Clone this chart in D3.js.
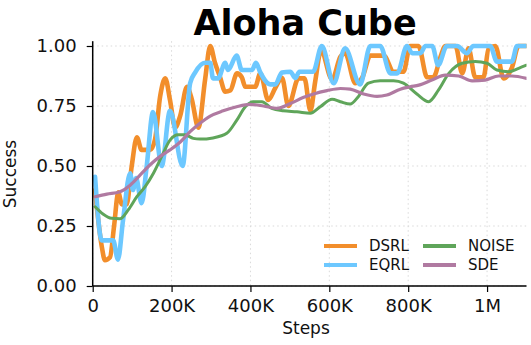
<!DOCTYPE html>
<html>
<head>
<meta charset="utf-8">
<script src="https://cdn.jsdelivr.net/npm/d3@7"></script>
<style>
  html, body { margin: 0; padding: 0; background: #fff; }
  svg { display: block; font-family: "DejaVu Sans", sans-serif; }
</style>
</head>
<body>
<svg id="chart" width="531" height="345"></svg>
<script>
// ---- data (steps in thousands) ----
const seriesNames = ["DSRL", "EQRL", "NOISE", "SDE"];

const dsrlSteps = [6,23,31,44,54,65,74,86,99,112,124,146,158,171,184,196,209,222,239,251,268,285,298,310,323,336,349,366,378,387,412,425,445,463,480,496,522,537,552,564,579,607,628,640,666,684,704,738,763,788,805,826,848,864,882,894,920,937,953,970,991,1004,1021,1042,1063,1080,1100];
const dsrlValues = [0.40,0.164,0.108,0.12,0.247,0.39,0.34,0.34,0.50,0.62,0.567,0.567,0.61,0.79,0.865,0.775,0.66,0.71,0.83,0.78,0.66,0.86,1.0,0.93,0.87,0.81,0.815,0.886,0.87,0.83,0.83,0.886,0.775,0.825,0.867,0.75,0.865,0.865,0.73,0.85,0.98,0.86,0.955,0.97,0.845,0.87,0.96,0.96,0.893,0.893,1.0,1.0,0.87,0.87,0.955,1.0,1.0,0.886,0.99,0.87,0.87,0.99,1.0,0.865,0.91,1.0,1.0];

const eqrlSteps = [6,23,52,64,77,95,102,110,124,137,153,175,196,228,247,260,285,298,305,318,336,343,365,378,404,414,425,450,463,480,501,514,524,559,581,611,640,678,704,729,755,772,797,810,831,844,861,876,898,924,949,965,1008,1025,1063,1076,1100];
const eqrlValues = [0.455,0.19,0.19,0.11,0.275,0.47,0.40,0.45,0.345,0.50,0.725,0.50,0.73,0.50,0.845,0.89,0.93,0.93,0.865,0.865,0.93,0.90,0.96,0.90,0.90,0.93,0.89,0.84,0.84,0.89,0.893,0.867,0.893,0.893,1.0,0.845,0.99,0.84,1.0,1.0,0.886,0.886,1.0,0.97,0.97,1.0,1.0,0.92,1.0,1.0,0.97,1.0,1.0,0.935,0.935,1.0,1.0];

const noiseSteps = [6,26,48,69,90,112,133,154,175,196,217,234,255,272,305,340,365,387,407,429,454,483,518,552,577,607,628,653,674,699,729,763,788,822,852,877,903,937,970,1000,1025,1055,1080,1100];
const noiseValues = [0.33,0.30,0.282,0.28,0.317,0.372,0.414,0.47,0.54,0.608,0.63,0.63,0.615,0.612,0.617,0.636,0.69,0.747,0.768,0.768,0.74,0.73,0.726,0.72,0.747,0.778,0.768,0.758,0.79,0.845,0.855,0.855,0.845,0.80,0.768,0.817,0.886,0.928,0.935,0.928,0.90,0.893,0.907,0.92];

const sdeSteps = [6,36,69,95,120,145,171,196,222,247,272,298,331,365,399,433,467,501,535,560,594,628,653,687,721,746,780,805,827,860,894,928,962,995,1029,1063,1100];
const sdeValues = [0.372,0.383,0.393,0.42,0.462,0.504,0.54,0.567,0.60,0.643,0.678,0.708,0.73,0.747,0.757,0.75,0.74,0.76,0.786,0.80,0.814,0.823,0.82,0.80,0.79,0.796,0.82,0.83,0.837,0.858,0.879,0.875,0.855,0.858,0.875,0.875,0.865];

const xTickValues = [0, 200, 400, 600, 800, 1000];
const xTickLabels = ["0", "200K", "400K", "600K", "800K", "1M"];
const yTickValues = [0, 0.25, 0.5, 0.75, 1.0];
const yTickLabels = ["0.00", "0.25", "0.50", "0.75", "1.00"];

const colors = { DSRL: "#F28E2B", EQRL: "#6DC8FF", NOISE: "#5FA55A", SDE: "#B07AA1" };
const widths = { DSRL: 4.6, EQRL: 4.6, NOISE: 3, SDE: 3.2 };

// ---- layout ----
const svg = d3.select("#chart");
const pLeft = 92.7, pRight = 526.5, pTop = 41.2, pBottom = 286;
const x = d3.scaleLinear().domain([0, 1100]).range([pLeft, pRight]);
const y = d3.scaleLinear().domain([0, 1.02]).range([pBottom, pTop]);

// grid
const grid = svg.append("g");
grid.selectAll("line.gx").data(xTickValues).enter().append("line")
  .attr("x1", d => x(d)).attr("x2", d => x(d)).attr("y1", pTop).attr("y2", pBottom)
  .attr("stroke", "#d9d9d9").attr("stroke-width", 1).attr("stroke-dasharray", "1.5,3");
grid.selectAll("line.gy").data(yTickValues).enter().append("line")
  .attr("y1", d => y(d)).attr("y2", d => y(d)).attr("x1", pLeft).attr("x2", pRight)
  .attr("stroke", "#d9d9d9").attr("stroke-width", 1).attr("stroke-dasharray", "1.5,3");

// lines
const series = [
  { name: "DSRL", steps: dsrlSteps, values: dsrlValues },
  { name: "EQRL", steps: eqrlSteps, values: eqrlValues },
  { name: "NOISE", steps: noiseSteps, values: noiseValues },
  { name: "SDE", steps: sdeSteps, values: sdeValues }
];
svg.append("clipPath").attr("id", "clip").append("rect")
  .attr("x", pLeft).attr("y", 0).attr("width", pRight - pLeft).attr("height", pBottom);
const line = d3.line().x(d => x(d[0])).y(d => y(d[1])).curve(d3.curveMonotoneX);
const lg = svg.append("g").attr("clip-path", "url(#clip)");
series.forEach(s => {
  const pts = s.steps.map((st, i) => [st, s.values[i]]);
  lg.append("path").datum(pts).attr("d", line)
    .attr("fill", "none").attr("stroke", colors[s.name])
    .attr("stroke-width", widths[s.name]).attr("stroke-linejoin", "round").attr("stroke-linecap", "round");
});

// axes
const xAxis = d3.axisBottom(x).tickValues(xTickValues).tickFormat((d, i) => xTickLabels[i]).tickSize(6).tickPadding(7);
const yAxis = d3.axisLeft(y).tickValues(yTickValues).tickFormat((d, i) => yTickLabels[i]).tickSize(6).tickPadding(10);
const gx = svg.append("g").attr("transform", `translate(0,${pBottom})`).call(xAxis);
const gy = svg.append("g").attr("transform", `translate(${pLeft},0)`).call(yAxis);
[gx, gy].forEach(g => {
  g.select(".domain").attr("stroke", "#000").attr("stroke-width", 1.5);
  g.selectAll(".tick line").attr("stroke", "#000").attr("stroke-width", 1.2);
  g.selectAll(".tick text").attr("font-size", 18).attr("fill", "#111").attr("font-family", "DejaVu Sans");
});
gx.select(".domain").attr("d", `M${pLeft},0H${pRight}`);
gy.select(".domain").attr("d", `M0,${pTop}V${pBottom}`);

// labels
svg.append("text").attr("x", 305).attr("y", 35).attr("text-anchor", "middle")
  .attr("font-size", 35).attr("font-weight", "bold").attr("fill", "#000").text("Aloha Cube");
svg.append("text").attr("x", 306).attr("y", 334).attr("text-anchor", "middle")
  .attr("font-size", 17).attr("fill", "#111").text("Steps");
svg.append("text").attr("transform", "translate(16,174) rotate(-90)").attr("text-anchor", "middle")
  .attr("font-size", 17).attr("fill", "#111").text("Success");

// legend
const legendPos = [
  { name: "DSRL", x: 324, y: 246 },
  { name: "EQRL", x: 324, y: 265 },
  { name: "NOISE", x: 423, y: 246 },
  { name: "SDE", x: 423, y: 265 }
];
const leg = svg.append("g");
legendPos.forEach(p => {
  leg.append("line").attr("x1", p.x).attr("x2", p.x + 33).attr("y1", p.y).attr("y2", p.y)
    .attr("stroke", colors[p.name]).attr("stroke-width", 4);
  leg.append("text").attr("x", p.x + 45).attr("y", p.y).attr("dy", "0.36em")
    .attr("font-size", 15).attr("fill", "#111").text(p.name);
});
</script>
</body>
</html>
